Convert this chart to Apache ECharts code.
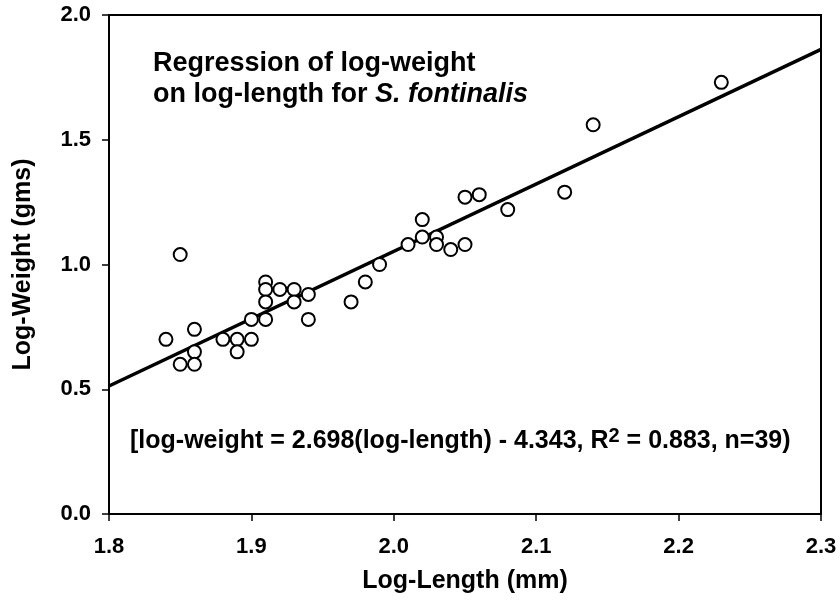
<!DOCTYPE html>
<html>
<head>
<meta charset="utf-8">
<script src="https://cdn.jsdelivr.net/npm/echarts@6/dist/echarts.min.js"></script>
<style>
  html, body { margin: 0; padding: 0; background: #fff; }
  #chart { width: 840px; height: 610px; }
</style>
</head>
<body>
<div id="chart"></div>
<script>
// log-length (mm) of each fish
var logLength = [
  1.84, 1.85, 1.85, 1.86, 1.86, 1.86, 1.88, 1.89, 1.89, 1.90,
  1.90, 1.91, 1.91, 1.91, 1.91, 1.92, 1.93, 1.93, 1.94, 1.94,
  1.97, 1.98, 1.99, 2.01, 2.02, 2.02, 2.03, 2.03, 2.04, 2.05,
  2.05, 2.06, 2.08, 2.12, 2.14, 2.23
];
// log-weight (gms) of each fish
var logWeight = [
  0.70, 1.04, 0.60, 0.74, 0.65, 0.60, 0.70, 0.70, 0.65, 0.78,
  0.70, 0.93, 0.90, 0.85, 0.78, 0.90, 0.90, 0.85, 0.88, 0.78,
  0.85, 0.93, 1.00, 1.08, 1.18, 1.11, 1.11, 1.08, 1.06, 1.08,
  1.27, 1.28, 1.22, 1.29, 1.56, 1.73
];
// fitted line end points (read at the axis limits)
var fitX = [1.8, 2.3];
var fitY = [0.513, 1.862];

var xTicks = ['1.8', '1.9', '2.0', '2.1', '2.2', '2.3'];
var yTicks = ['0.0', '0.5', '1.0', '1.5', '2.0'];

var points = logLength.map(function (x, i) { return [x, logWeight[i]]; });
var fitLine = fitX.map(function (x, i) { return [x, fitY[i]]; });

var font = 'Liberation Sans, Arial, sans-serif';
var chart = echarts.init(document.getElementById('chart'));

chart.setOption({
  animation: false,
  backgroundColor: '#fff',
  grid: {
    left: 109, right: 19, top: 15, bottom: 96,
    show: true, borderColor: '#000', borderWidth: 2, backgroundColor: 'transparent'
  },
  xAxis: {
    type: 'value', min: 1.8, max: 2.3, interval: 0.1,
    name: 'Log-Length (mm)', nameLocation: 'middle', nameGap: 55,
    nameTextStyle: { fontFamily: font, fontWeight: 'bold', fontSize: 25, color: '#000' },
    axisLine: { show: true, onZero: false, lineStyle: { color: '#000', width: 2 } },
    axisTick: { show: true, inside: false, length: 7, lineStyle: { color: '#000', width: 1.5 } },
    axisLabel: {
      margin: 22, fontFamily: font, fontWeight: 'bold', fontSize: 22, color: '#000',
      formatter: function (v) { return xTicks[Math.round((v - 1.8) * 10)]; }
    },
    splitLine: { show: false }
  },
  yAxis: {
    type: 'value', min: 0, max: 2, interval: 0.5,
    name: 'Log-Weight (gms)', nameLocation: 'middle', nameGap: 73,
    nameTextStyle: { fontFamily: font, fontWeight: 'bold', fontSize: 25, color: '#000' },
    axisLine: { show: true, onZero: false, lineStyle: { color: '#000', width: 2 } },
    axisTick: { show: true, inside: false, length: 7, lineStyle: { color: '#000', width: 1.5 } },
    axisLabel: {
      margin: 18, fontFamily: font, fontWeight: 'bold', fontSize: 22, color: '#000',
      formatter: function (v) { return yTicks[Math.round(v * 2)]; }
    },
    splitLine: { show: false }
  },
  graphic: [
    {
      type: 'text', left: 153, top: 48,
      style: {
        text: 'Regression of log-weight\non log-length for {it|S. fontinalis}',
        font: 'bold 27px ' + font, fill: '#000', lineHeight: 31,
        rich: {
          it: { fontStyle: 'italic', fontWeight: 'bold', fontSize: 27, fontFamily: font, fill: '#000' }
        }
      }
    },
    {
      type: 'text', left: 130, top: 426,
      style: {
        text: '[log-weight = 2.698(log-length) - 4.343, R{sup|2} = 0.883, n=39)',
        font: 'bold 25px ' + font, fill: '#000', lineHeight: 30,
        rich: {
          sup: { fontSize: 20, fontWeight: 'bold', fontFamily: font, verticalAlign: 'top', fill: '#000' }
        }
      }
    }
  ],
  series: [
    {
      type: 'line', data: fitLine, symbol: 'none', silent: true,
      lineStyle: { color: '#000', width: 3.5 }, z: 2
    },
    {
      type: 'scatter', data: points, symbol: 'circle', symbolSize: 13,
      itemStyle: { color: '#fff', borderColor: '#000', borderWidth: 2, opacity: 1 }, z: 3
    }
  ]
});
</script>
</body>
</html>
